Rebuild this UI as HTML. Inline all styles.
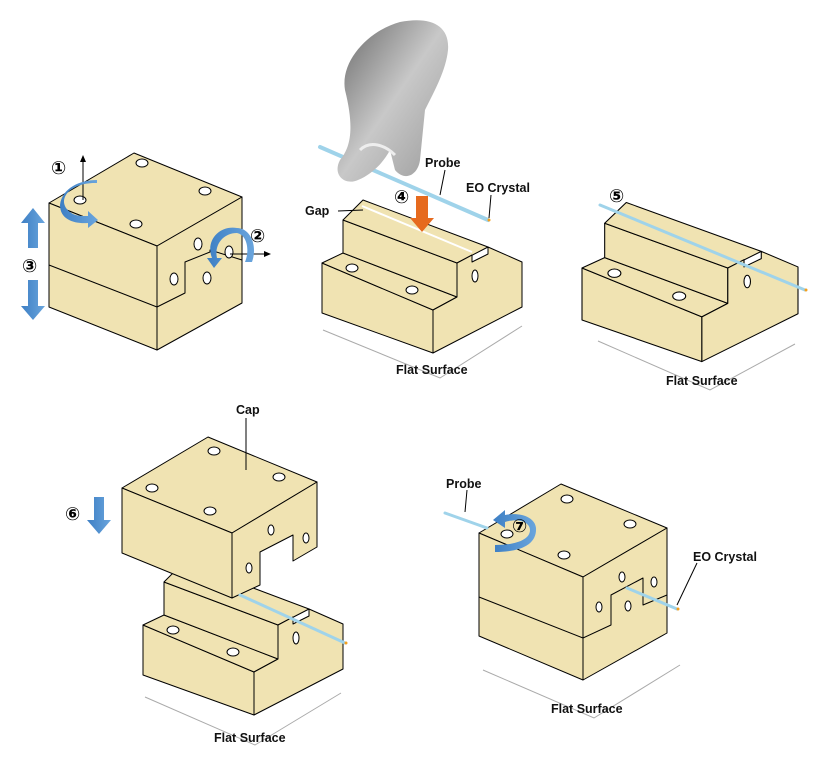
<!DOCTYPE html>
<html><head><meta charset="utf-8"><style>
html,body{margin:0;padding:0;background:#fff}
svg{display:block}
text{font-family:"Liberation Sans",sans-serif;font-weight:bold;font-size:12.5px;fill:#111}
.n{font-family:"DejaVu Sans",sans-serif;font-weight:bold;font-size:18px;fill:#000}
</style></head><body>
<svg width="827" height="767" viewBox="0 0 827 767" xmlns="http://www.w3.org/2000/svg">
<defs>
<linearGradient id="hand" x1="0" y1="0" x2="1" y2="1"><stop offset="0" stop-color="#666"/><stop offset="0.5" stop-color="#c8c8c8"/><stop offset="1" stop-color="#999"/></linearGradient>
<linearGradient id="blue" x1="0" y1="0" x2="1" y2="0"><stop offset="0" stop-color="#3d7fc4"/><stop offset="1" stop-color="#6aa5dd"/></linearGradient>
<g id="step" fill="#f0e3b2" stroke="#000" stroke-width="1" stroke-linejoin="round">
<polygon points="322,263 433,310 433,353 322,313"/>
<polygon points="322,263 343,253 457,297 433,310"/>
<polygon points="343,220 457,263 457,297 343,253"/>
<polygon points="343,220 363,200 488,247 457,263"/>
<polygon points="433,353 433,310 457,297 457,263 472,255 472,262 488,254 488,247 522,262 522,307"/>
<polyline fill="none" points="472,255 472,262"/>
<g fill="#fff"><ellipse cx="352" cy="268" rx="6" ry="4"/><ellipse cx="412" cy="290" rx="6" ry="4"/><ellipse cx="475" cy="276" rx="3" ry="6"/></g>
</g>
</defs>
<g fill="#f0e3b2" stroke="#000" stroke-width="1" stroke-linejoin="round">

<!-- Cube 1 -->
<polygon points="49,203 134,153 242,197 157,246"/>
<polygon points="49,203 157,246 157,350 49,307"/>
<polygon points="157,246 242,197 242,303 157,350"/>
<polyline fill="none" points="49,265 157,307"/>
<polyline fill="none" points="157,307 185,293 185,262 210,252 210,250 242,260"/>
<g fill="#fff"><ellipse cx="80" cy="200" rx="6" ry="4"/><ellipse cx="142" cy="163" rx="6" ry="4"/><ellipse cx="205" cy="191" rx="6" ry="4"/><ellipse cx="136" cy="224" rx="6" ry="4"/>
<ellipse cx="198" cy="244" rx="4" ry="6"/><ellipse cx="229" cy="252" rx="4" ry="6"/><ellipse cx="174" cy="279" rx="4" ry="6"/><ellipse cx="207" cy="278" rx="4" ry="6"/></g>
</g>

<use href="#step"/>
<line x1="362" y1="206" x2="472" y2="252" stroke="#fff" stroke-width="2"/>
<use href="#step" transform="translate(582,268) scale(1.08,1.04) translate(-322,-263)"/>
<use href="#step" transform="translate(-179,362)"/>

<g fill="#f0e3b2" stroke="#000" stroke-width="1" stroke-linejoin="round">
<!-- Cap -->
<polygon points="122,488 208,437 317,482 232,533"/>
<polygon points="122,488 232,533 232,598 122,553"/>
<polygon points="232,533 317,482 317,547 293,561 293,535 260,552 260,585 232,598"/>
<g fill="#fff"><ellipse cx="152" cy="488" rx="6" ry="4"/><ellipse cx="214" cy="451" rx="6" ry="4"/><ellipse cx="279" cy="477" rx="6" ry="4"/><ellipse cx="210" cy="511" rx="6" ry="4"/>
<ellipse cx="271" cy="530" rx="3" ry="5"/><ellipse cx="306" cy="538" rx="3" ry="5"/><ellipse cx="249" cy="568" rx="3" ry="5"/></g>

<!-- Cube 7 -->
<polygon points="479,533 561,484 667,528 583,577"/>
<polygon points="479,533 583,577 583,680 479,636"/>
<polygon points="583,577 667,528 667,633 583,680"/>
<polyline fill="none" points="479,597 583,638"/>
<polyline fill="none" points="583,638 611,625 611,595 643,578 643,605 667,595"/>
<g fill="#fff"><ellipse cx="507" cy="534" rx="6" ry="4"/><ellipse cx="567" cy="499" rx="6" ry="4"/><ellipse cx="630" cy="524" rx="6" ry="4"/><ellipse cx="564" cy="555" rx="6" ry="4"/>
<ellipse cx="622" cy="577" rx="3" ry="5"/><ellipse cx="654" cy="582" rx="3" ry="5"/><ellipse cx="599" cy="607" rx="3" ry="5"/><ellipse cx="628" cy="606" rx="3" ry="5"/></g>
</g>

<!-- flat surfaces -->
<g stroke="#aaa" fill="none" stroke-width="1">
<polyline points="323,330 440,378 522,326"/>
<polyline points="598,341 710,390 795,344"/>
<polyline points="145,697 255,745 341,693"/>
<polyline points="483,670 594,718 680,665"/>
</g>

<!-- probes -->
<g stroke="#9fd3ea" stroke-linecap="round">
<line x1="320" y1="147" x2="488" y2="220" stroke-width="4"/>
<line x1="600" y1="205" x2="805" y2="290" stroke-width="3"/>
<line x1="240" y1="595" x2="345" y2="643" stroke-width="3"/>
<line x1="445" y1="513" x2="487" y2="528" stroke-width="3"/>
<line x1="627" y1="588" x2="677" y2="609" stroke-width="3"/>
</g>
<g fill="#f2a020"><circle cx="489" cy="220" r="1.5"/><circle cx="806" cy="290" r="1.5"/><circle cx="346" cy="643" r="1.5"/><circle cx="678" cy="609" r="1.5"/></g>

<!-- hand -->
<path d="M345,90 C340,60 370,30 400,22 C430,16 450,25 448,50 C446,70 435,90 425,110 L420,160 C418,175 405,182 395,170 L390,150 C382,165 370,175 358,180 C345,186 332,175 340,160 C350,148 355,130 345,90 Z" fill="url(#hand)"/>
<path d="M360,150 C370,140 385,145 395,155" stroke="#eee" stroke-width="3" fill="none"/>

<!-- leader lines -->
<g stroke="#000" stroke-width="1" fill="none">
<line x1="445" y1="170" x2="440" y2="195"/>
<line x1="491" y1="195" x2="489" y2="218"/>
<line x1="338" y1="211" x2="363" y2="210"/>
<line x1="246" y1="418" x2="246" y2="470"/>
<line x1="467" y1="490" x2="465" y2="512"/>
<line x1="697" y1="563" x2="677" y2="605"/>
<line x1="83" y1="200" x2="83" y2="160"/>
<line x1="230" y1="254" x2="265" y2="254"/>
</g>
<polygon points="80,162 86,162 83,155" fill="#000"/>
<polygon points="264,251 264,257 271,254" fill="#000"/>

<!-- blue arrows -->
<g fill="url(#blue)">
<polygon points="33,208 45,223 38,223 38,248 28,248 28,223 21,223"/>
<polygon points="28,280 38,280 38,306 45,306 33,320 21,306 28,306"/>
<polygon points="94,497 104,497 104,520 111,520 99,534 87,520 94,520"/>
<path d="M97,183 C70,182 55,200 70,212 C75,216 80,216 88,216 L88,211 L98,220 L88,228 L88,223 C75,224 60,220 60,205 C62,188 80,180 97,180 Z"/>
<path d="M237,228 C220,225 205,240 212,258 L207,258 L214,268 L222,258 L217,258 C214,245 223,233 237,233 C247,235 250,250 245,262 L252,262 C258,245 250,228 237,228 Z"/>
<path d="M536,528 C535,517 520,512 505,515 L505,510 L493,520 L505,528 L505,522 C518,518 530,522 530,530 C530,540 515,545 495,545 L495,552 C520,552 537,545 536,528 Z"/>
</g>
<polygon points="416,196 428,196 428,218 434,218 422,232 410,218 416,218" fill="#e66a1e"/>

<!-- numbers -->
<text class="n" x="51" y="174">①</text>
<text class="n" x="250" y="242">②</text>
<text class="n" x="22" y="272">③</text>
<text class="n" x="394" y="203">④</text>
<text class="n" x="609" y="202">⑤</text>
<text class="n" x="65" y="520">⑥</text>
<text class="n" x="512" y="532">⑦</text>

<!-- labels -->
<text x="425" y="167">Probe</text>
<text x="466" y="192">EO Crystal</text>
<text x="305" y="215">Gap</text>
<text x="396" y="374">Flat Surface</text>
<text x="666" y="385">Flat Surface</text>
<text x="236" y="414">Cap</text>
<text x="446" y="488">Probe</text>
<text x="693" y="561">EO Crystal</text>
<text x="551" y="713">Flat Surface</text>
<text x="214" y="742">Flat Surface</text>
</svg>
</body></html>
